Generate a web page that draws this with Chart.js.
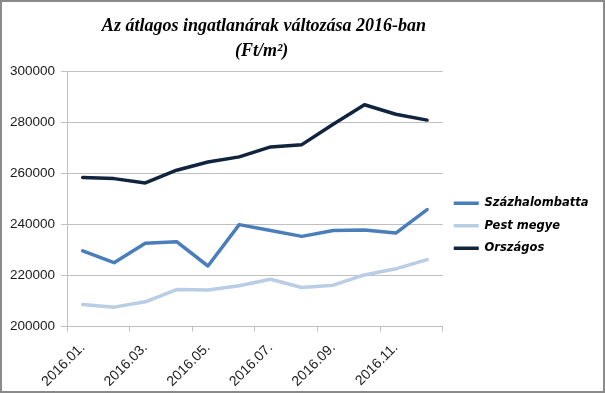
<!DOCTYPE html>
<html lang="hu">
<head>
<meta charset="UTF-8">
<title>Ingatlanárak 2016</title>
<script src="https://cdn.jsdelivr.net/npm/chart.js"></script>
<style>
  * { margin: 0; padding: 0; box-sizing: border-box; }
  body { background: #fff; }
  #keret { width: 605px; height: 393px; border: 2px solid #8a8a8a; background: #fff; }
  canvas { display: block; }
</style>
</head>
<body>
<div id="keret"><canvas id="grafikon" width="601" height="389"></canvas></div>
<script>
// adatok (leolvasva az ábráról)
const honapok = ['2016.01.', '2016.02.', '2016.03.', '2016.04.', '2016.05.', '2016.06.',
                 '2016.07.', '2016.08.', '2016.09.', '2016.10.', '2016.11.', '2016.12.'];
const szazhalombatta = [229600, 225000, 232600, 233200, 223700, 239900, 237600, 235300, 237600, 237800, 236600, 245800];
const pestMegye = [208600, 207600, 209700, 214500, 214300, 216000, 218500, 215300, 216200, 220200, 222600, 226200];
const orszagos = [258300, 257900, 256200, 261200, 264400, 266400, 270300, 271200, 279200, 286800, 283100, 280800];
const yMin = 200000;
const yMax = 300000;
const yLepes = 20000;

const racsSzin = '#c0c0c0';
const vonalVastag = 3.5;

const config = {
  type: 'line',
  data: {
    labels: honapok,
    datasets: [{
      label: 'Százhalombatta',
      data: szazhalombatta,
      borderColor: '#4a7ebb',
      backgroundColor: '#4a7ebb'
    }, {
      label: 'Pest megye',
      data: pestMegye,
      borderColor: '#b9cde5',
      backgroundColor: '#b9cde5'
    }, {
      label: 'Országos',
      data: orszagos,
      borderColor: '#10243e',
      backgroundColor: '#10243e'
    }]
  },
  options: {
    responsive: false,
    animation: false,
    elements: {
      line: { borderWidth: vonalVastag, tension: 0, borderJoinStyle: 'round', borderCapStyle: 'round' },
      // a jelmagyarázat vonala a pont stílusát veszi át
      point: { radius: 0, hoverRadius: 0, borderWidth: vonalVastag }
    },
    layout: { padding: { left: 2, right: 14, top: 0, bottom: -7 } },
    plugins: {
      title: {
        display: true,
        fullSize: false,
        // a vezető szóközök kicsit jobbra tolják a címet, mint az eredetin
        text: ['    Az átlagos ingatlanárak változása 2016-ban', '   (Ft/m²)'],
        color: '#000',
        font: { family: '"Liberation Serif", "Times New Roman", serif', size: 18, style: 'italic', weight: 'bold', lineHeight: 1.39 },
        padding: { top: 12, bottom: 7 }
      },
      legend: {
        position: 'right',
        align: 'center',
        title: { display: true, text: '', padding: 18.5 },
        labels: {
          usePointStyle: true,
          pointStyle: 'line',
          pointStyleWidth: 25,
          padding: 11,
          color: '#000',
          font: { family: '"DejaVu Sans", Verdana, sans-serif', size: 11.5, style: 'italic', weight: 'bold' }
        }
      },
      tooltip: { enabled: false }
    },
    scales: {
      x: {
        offset: true,
        grid: {
          offset: true,
          drawOnChartArea: false,
          tickLength: 5,
          color: ctx => (ctx.index === undefined || ctx.index % 2 === 0) ? racsSzin : 'rgba(0,0,0,0)'
        },
        border: { color: racsSzin },
        ticks: {
          autoSkip: false,
          maxRotation: 45,
          minRotation: 45,
          padding: 9,
          color: '#1a1a1a',
          font: { family: '"Liberation Sans", Arial, sans-serif', size: 14, lineHeight: 1 },
          callback: (v, i) => i % 2 === 0 ? honapok[i] : ''
        }
      },
      y: {
        min: yMin,
        max: yMax,
        grid: { color: racsSzin, tickLength: 6 },
        border: { color: racsSzin },
        ticks: {
          stepSize: yLepes,
          padding: 6,
          color: '#1a1a1a',
          font: { family: '"Liberation Sans", Arial, sans-serif', size: 13.5 },
          callback: v => String(v)
        }
      }
    }
  }
};

new Chart(document.getElementById('grafikon'), config);
</script>
</body>
</html>
